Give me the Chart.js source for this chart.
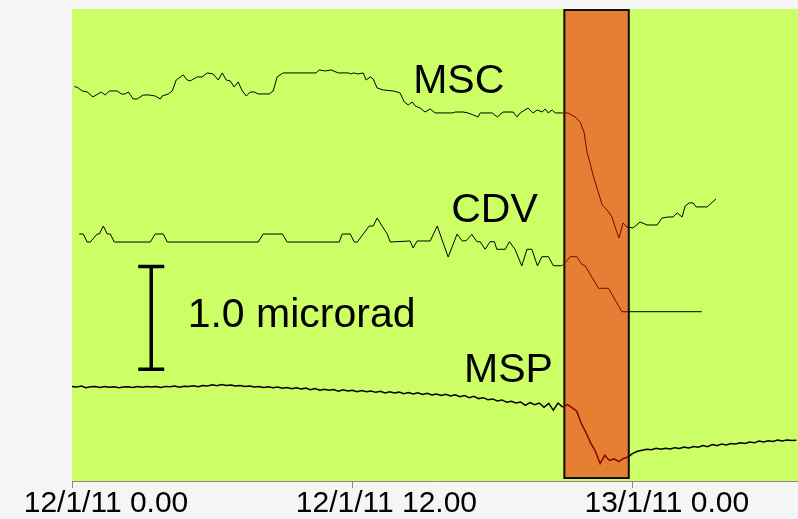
<!DOCTYPE html>
<html>
<head>
<meta charset="utf-8">
<script src="https://cdn.jsdelivr.net/npm/chart.js@4.4.1/dist/chart.umd.min.js"></script>
<style>
  html, body { margin: 0; padding: 0; background: #f5f5f5; }
  #tilt { display: block; }
</style>
</head>
<body>
<canvas id="tilt" width="798" height="519"></canvas>
<script>
// x = hours since 12/1/11 0.00, y = tilt in microrad (each station offset)
const tickHours = [0, 12, 24];
const tickLabels = ['12/1/11 0.00', '12/1/11 12.00', '13/1/11 0.00'];

// orange box (hours)
const eventWindow = [21.03, 23.87];

const mscHours = [0.10,0.23,0.44,0.65,0.90,1.25,1.42,1.60,1.94,2.11,2.28,2.41,2.62,2.79,3.05,3.31,3.56,3.78,3.86,4.12,
  4.29,4.46,4.76,4.93,5.06,5.36,5.57,5.79,6.04,6.26,6.43,6.60,6.77,6.94,7.11,7.29,7.46,7.63,7.80,7.97,
  8.44,8.61,8.78,9.04,10.45,10.58,10.84,11.09,11.39,11.82,11.95,12.03,12.25,12.46,12.59,12.76,12.89,13.06,13.32,13.74,
  13.92,14.04,14.22,14.39,14.56,14.69,14.90,15.11,15.33,15.54,16.27,16.40,16.74,16.95,17.17,17.38,17.47,17.98,18.20,18.45,
  18.88,19.05,19.18,19.52,19.73,19.91,20.12,20.25,20.38,20.55,20.68,20.98,21.23,21.53,21.75,21.92,22.04,22.17,22.30,22.52,
  22.69,22.90,23.11,23.24,23.41,23.58,23.75,24.01,24.31,24.61,25.04,25.25,25.51,25.72,25.90,26.11,26.24,26.41,26.58,26.71,
  27.18,27.56];
const mscTilt = [3.843,3.837,3.801,3.791,3.743,3.791,3.762,3.801,3.801,3.772,3.772,3.791,3.723,3.723,3.762,3.762,3.752,3.723,3.752,3.772,
  3.801,3.908,3.957,3.908,3.899,3.938,3.938,3.977,3.967,3.908,3.977,3.908,3.899,3.840,3.889,3.801,3.752,3.791,3.791,3.772,
  3.772,3.801,3.938,3.977,3.977,4.006,3.996,4.006,3.977,3.977,3.967,3.977,3.967,3.977,3.908,3.938,3.918,3.830,3.811,3.801,
  3.791,3.782,3.694,3.665,3.694,3.655,3.635,3.596,3.626,3.587,3.587,3.596,3.596,3.587,3.567,3.548,3.587,3.587,3.548,3.596,
  3.596,3.548,3.587,3.635,3.587,3.616,3.596,3.626,3.587,3.616,3.587,3.587,3.587,3.548,3.499,3.392,3.207,3.099,2.982,2.817,
  2.690,2.641,2.573,2.476,2.368,2.515,2.476,2.466,2.524,2.495,2.495,2.563,2.573,2.573,2.612,2.573,2.680,2.710,2.710,2.671,
  2.671,2.749];

const cdvHours = [0.31,0.48,0.65,0.78,1.08,1.17,1.34,1.51,1.64,1.81,3.35,3.56,3.91,4.08,7.97,8.18,9.00,9.21,11.44,11.56,
  11.91,12.08,12.21,12.46,12.72,12.89,13.06,13.27,13.49,13.62,14.47,14.60,14.77,15.33,15.63,15.84,16.10,16.48,16.70,16.87,
  17.11,17.33,17.47,17.68,17.89,18.08,18.18,18.54,18.72,18.96,19.25,19.47,19.68,19.92,20.11,20.39,20.60,20.96,21.18,21.32,
  21.60,21.82,21.96,22.53,22.96,23.53,23.74,26.95];
const cdvTilt = [2.407,2.407,2.329,2.329,2.407,2.407,2.485,2.407,2.407,2.329,2.329,2.407,2.407,2.329,2.329,2.407,2.407,2.329,2.329,2.407,
  2.407,2.329,2.329,2.407,2.485,2.485,2.563,2.485,2.407,2.329,2.339,2.271,2.339,2.339,2.485,2.349,2.183,2.407,2.339,2.342,
  2.404,2.332,2.332,2.258,2.332,2.332,2.258,2.258,2.332,2.258,2.096,2.258,2.258,2.096,2.186,2.186,2.098,2.098,2.144,2.186,
  2.186,2.112,2.098,1.878,1.878,1.650,1.650,1.650];

// MSP sampled every 0.2 h from 0.00
const mspStep = 0.2;
const mspTilt = [
  0.920,0.915,0.925,0.910,0.918,0.921,0.912,0.920,0.914,0.918,
  0.910,0.916,0.919,0.912,0.921,0.914,0.922,0.915,0.920,0.911,
  0.922,0.918,0.925,0.915,0.924,0.920,0.928,0.918,0.930,0.925,
  0.938,0.928,0.940,0.930,0.935,0.925,0.931,0.920,0.925,0.917,
  0.922,0.912,0.918,0.909,0.915,0.904,0.912,0.900,0.908,0.897,
  0.905,0.890,0.900,0.884,0.895,0.885,0.892,0.874,0.890,0.878,
  0.885,0.871,0.882,0.870,0.878,0.864,0.875,0.858,0.870,0.857,
  0.866,0.851,0.862,0.849,0.860,0.843,0.855,0.838,0.848,0.833,
  0.845,0.828,0.840,0.822,0.832,0.812,0.825,0.803,0.812,0.792,
  0.800,0.781,0.790,0.768,0.776,0.760,0.770,0.738,0.765,0.743,
  0.760,0.718,0.757,0.690,0.760,0.720,0.745,0.715,0.680,0.560,
  0.470,0.370,0.290,0.170,0.250,0.200,0.215,0.190,0.220,0.235,
  0.270,0.290,0.300,0.310,0.305,0.318,0.310,0.320,0.312,0.325,
  0.318,0.330,0.322,0.335,0.330,0.345,0.335,0.355,0.345,0.360,
  0.352,0.365,0.360,0.372,0.365,0.380,0.372,0.390,0.380,0.392,
  0.385,0.400,0.390,0.400,0.395,0.398];

// 1.0 microrad bar
const scaleBar = { hour: 3.39, from: 1.09, to: 2.09 };

const DARK_RED = '#8b0000';
const inBox = ctx => {
  const mid = (ctx.p0.parsed.x + ctx.p1.parsed.x) / 2;
  return mid > eventWindow[0] && mid < eventWindow[1] ? DARK_RED : undefined;
};

function toPoints(xs, ys) {
  return xs.map((h, i) => ({ x: h, y: ys[i] }));
}

const decor = {
  id: 'decor',
  beforeDraw(chart) {
    const { ctx, chartArea: a } = chart;
    ctx.save();
    ctx.fillStyle = '#ccff66';
    ctx.fillRect(a.left, a.top, a.right - a.left, a.bottom - a.top);
    ctx.restore();
  },
  beforeDatasetsDraw(chart) {
    const { ctx, chartArea: a, scales: { x } } = chart;
    const x0 = x.getPixelForValue(eventWindow[0]);
    const x1 = x.getPixelForValue(eventWindow[1]);
    ctx.save();
    ctx.fillStyle = '#e47f33';
    ctx.fillRect(x0, a.top, x1 - x0, a.bottom - a.top - 2);
    ctx.strokeStyle = '#111';
    ctx.lineWidth = 2;
    ctx.strokeRect(x0 + 1, a.top + 1, x1 - x0 - 2, a.bottom - a.top - 4);
    ctx.restore();
  },
  afterDatasetsDraw(chart) {
    const { ctx, scales: { x, y } } = chart;
    ctx.save();
    ctx.fillStyle = '#000';
    ctx.font = '41px "Liberation Sans", Arial, sans-serif';
    ctx.textBaseline = 'alphabetic';
    ctx.textAlign = 'left';
    [
      ['MSC', 14.60, 3.78],
      ['CDV', 16.23, 2.524],
      ['MSP', 16.78, 0.965],
      ['1.0 microrad', 4.95, 1.50]
    ].forEach(([t, h, v]) => ctx.fillText(t, x.getPixelForValue(h), y.getPixelForValue(v)));

    // scale bar
    const bx = x.getPixelForValue(scaleBar.hour);
    const yTop = y.getPixelForValue(scaleBar.to);
    const yBot = y.getPixelForValue(scaleBar.from);
    ctx.strokeStyle = '#000';
    ctx.lineWidth = 3.5;
    ctx.beginPath();
    ctx.moveTo(bx, yTop); ctx.lineTo(bx, yBot);
    ctx.moveTo(bx - 13, yTop); ctx.lineTo(bx + 13, yTop);
    ctx.moveTo(bx - 13, yBot); ctx.lineTo(bx + 13, yBot);
    ctx.stroke();
    ctx.restore();
  }
};

new Chart(document.getElementById('tilt'), {
  type: 'line',
  data: {
    datasets: [
      { label: 'MSC', data: toPoints(mscHours, mscTilt), borderColor: '#000', borderWidth: 1, segment: { borderColor: inBox } },
      { label: 'CDV', data: toPoints(cdvHours, cdvTilt), borderColor: '#000', borderWidth: 1, segment: { borderColor: inBox } },
      { label: 'MSP', data: toPoints(mspTilt.map((v, i) => i * mspStep), mspTilt), borderColor: '#000', borderWidth: 1.5, segment: { borderColor: inBox } }
    ]
  },
  options: {
    responsive: false,
    animation: false,
    layout: { padding: { left: 72, top: 9, right: 0, bottom: 0 } },
    plugins: { legend: { display: false }, tooltip: { enabled: false } },
    elements: { point: { radius: 0 }, line: { tension: 0 } },
    scales: {
      x: {
        type: 'linear',
        min: 0,
        max: 31.07,
        afterBuildTicks: s => { s.ticks = tickHours.map(v => ({ value: v })); },
        afterFit: s => { s.paddingLeft = 0; s.paddingRight = 0; s.height = 38; },
        grid: { drawOnChartArea: false, tickLength: 7, color: '#8a8a8a' },
        border: { color: '#8a8a8a' },
        ticks: {
          padding: 4,
          labelOffset: 34,
          maxRotation: 0,
          autoSkip: false,
          color: '#000',
          font: { family: "'Liberation Sans', Arial, sans-serif", size: 30, lineHeight: 0.8 },
          callback: (v, i) => tickLabels[i]
        }
      },
      y: { display: false, min: 0, max: 4.6 }
    }
  },
  plugins: [decor]
});
</script>
</body>
</html>
